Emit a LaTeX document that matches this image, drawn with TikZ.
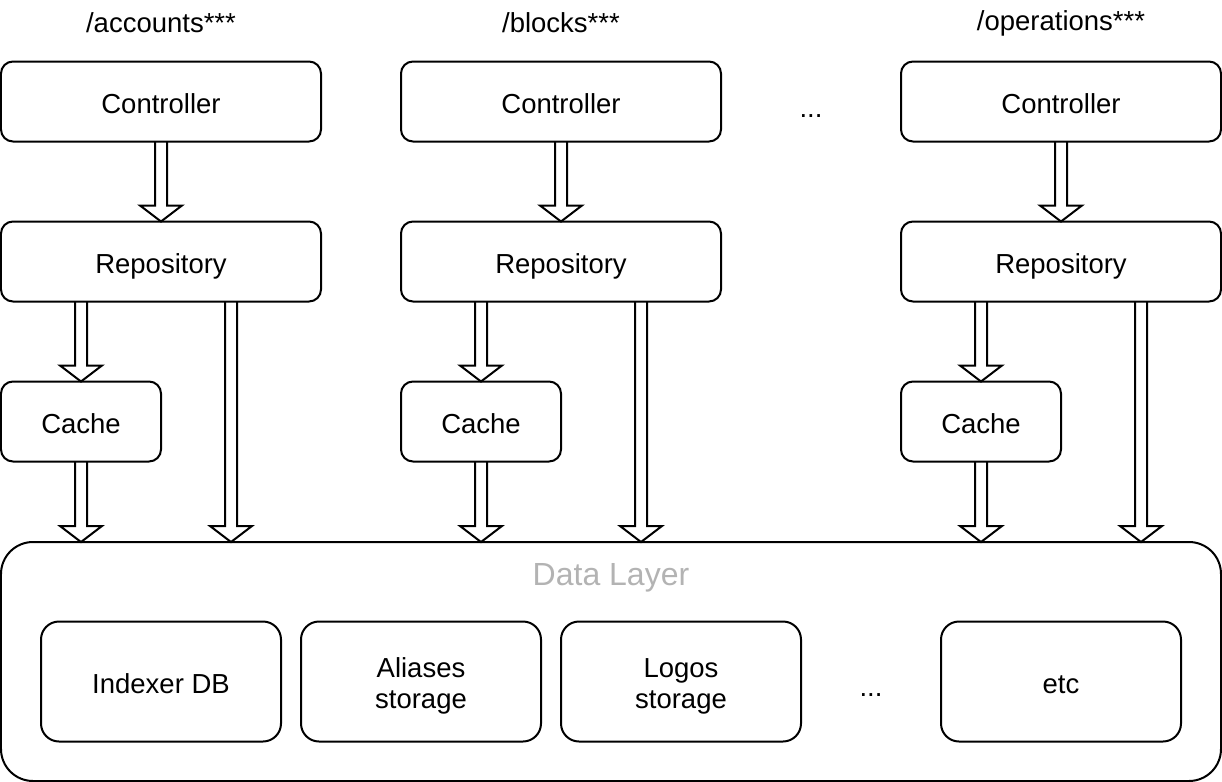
\documentclass[tikz,border=0pt]{standalone}
\usepackage{fontspec}
\setmainfont{Liberation Sans}
\usepackage{tikz}
\usetikzlibrary{calc}

\definecolor{layergray}{RGB}{179,179,179}

\tikzset{
    block/.style={draw, line width=1pt, rounded corners=6pt, minimum width=160pt,
        minimum height=40pt, inner sep=0pt, outer sep=0pt,
        font=\fontsize{13.75}{15.5}\selectfont, text height=13.1pt, text depth=1.6pt},
    cacheblock/.style={block, minimum width=80pt},
    storeblock/.style={block, minimum width=120pt, minimum height=60pt,
        rounded corners=9pt, align=center},
    tworows/.style={text height=28.6pt},
    route/.style={font=\fontsize{13.75}{15.5}\selectfont},
}

% hollow (double) arrow from #1 straight down to #2
\newcommand{\hollowarrow}[2]{%
    \draw[line width=1pt] let \p1=(#1), \p2=(#2) in
        (\x1-3pt,\y1) -- (\x1-3pt,\y2+8pt) -- (\x1-10.5pt,\y2+8pt) -- (\x1,\y2)
        -- (\x1+10.5pt,\y2+8pt) -- (\x1+3pt,\y2+8pt) -- (\x1+3pt,\y1);}

\begin{document}
\begin{tikzpicture}[x=0.5pt, y=-0.5pt]
            \useasboundingbox (-1,-1) rectangle (1221,781);

            % Endpoints
            \node[route] (acc) at (160,22) {/accounts***};
            \node[route] (blk) at (560,22) {/blocks***};
            \node[route] (ops) at (1060,22) {/operations***};

            % Controllers, repositories and caches
            \node[block] (ctl1) at (160,100.5) {Controller};
            \node[block] (ctl2) at (560,100.5) {Controller};
            \node[block] (ctl3) at (1060,100.5) {Controller};
            \node[route] (topdots) at (810,115) {...};

            \node[block] (repo1) at (160,260.5) {Repository};
            \node[block] (repo2) at (560,260.5) {Repository};
            \node[block] (repo3) at (1060,260.5) {Repository};

            \node[cacheblock] (cache1) at (80,420.5) {Cache};
            \node[cacheblock] (cache2) at (480,420.5) {Cache};
            \node[cacheblock] (cache3) at (980,420.5) {Cache};

            % Data layer and its storages
            \node[draw, line width=1pt, rounded corners=16pt, minimum width=610pt,
                minimum height=119.5pt, inner sep=0pt, outer sep=0pt] (data) at (610,660.5) {};
            \node[font=\fontsize{16}{19}\selectfont, text=layergray] (datatitle) at (610,577) {Data Layer};

            \node[storeblock] (indexer) at (160,680.5) {Indexer DB};
            \node[storeblock, tworows] (aliases) at (420,680.5) {Aliases\\storage};
            \node[storeblock, tworows] (logos) at (680,680.5) {Logos\\storage};
            \node[route] (storedots) at (870,694) {...};
            \node[storeblock] (etc) at (1060,680.5) {etc};

            % Arrows
            \coordinate (drop1) at ([xshift=-45pt]repo1.south east);
            \coordinate (drop2) at ([xshift=-40pt]repo2.south east);
            \coordinate (drop3) at ([xshift=-40pt]repo3.south east);

            \hollowarrow{ctl1.south}{repo1.north}
            \hollowarrow{ctl2.south}{repo2.north}
            \hollowarrow{ctl3.south}{repo3.north}

            \hollowarrow{repo1.south -| cache1.north}{cache1.north}
            \hollowarrow{repo2.south -| cache2.north}{cache2.north}
            \hollowarrow{repo3.south -| cache3.north}{cache3.north}

            \hollowarrow{cache1.south}{data.north -| cache1.south}
            \hollowarrow{cache2.south}{data.north -| cache2.south}
            \hollowarrow{cache3.south}{data.north -| cache3.south}

            \hollowarrow{drop1}{data.north -| drop1}
            \hollowarrow{drop2}{data.north -| drop2}
            \hollowarrow{drop3}{data.north -| drop3}
        \end{tikzpicture}
\end{document}
